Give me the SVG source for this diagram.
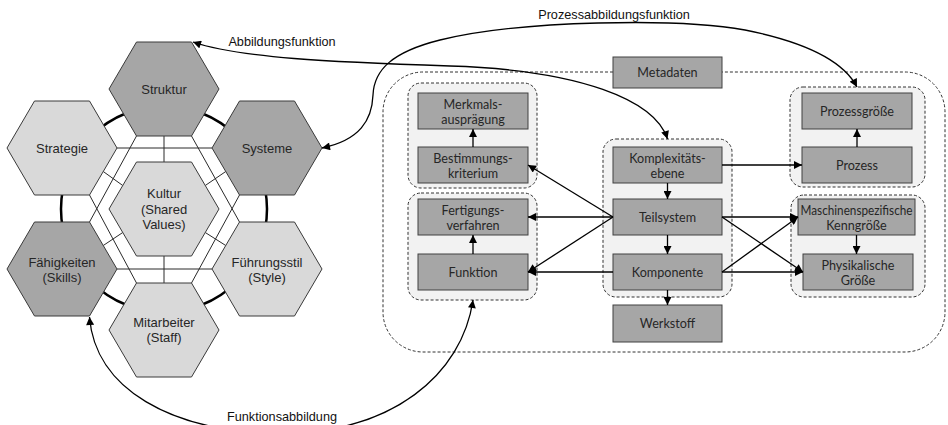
<svg xmlns="http://www.w3.org/2000/svg" width="948" height="425" viewBox="0 0 948 425">
<style>
.hexd{fill:#a6a6a6;stroke:#3a3a3a;stroke-width:1}
.hexl{fill:#d9d9d9;stroke:#3a3a3a;stroke-width:1}
.ht{font-family:"Liberation Sans",Arial,sans-serif;font-size:13px;fill:#262626;text-anchor:middle}
.lbl{font-family:"Liberation Sans",Arial,sans-serif;font-size:12.7px;fill:#111;text-anchor:middle}
.thin{stroke:#2a2a2a;stroke-width:1;fill:none}
.box{fill:#a6a6a6;stroke:#404040;stroke-width:1}
.grp{fill:#f2f2f2;stroke:#333;stroke-width:1;stroke-dasharray:3 2}
.bt{font-family:Lato,"Open Sans",sans-serif;font-size:12.6px;fill:#262626;text-anchor:middle}
.con{stroke:#000;stroke-width:1.3;fill:none}
</style>
<defs>
<marker id="ah" viewBox="0 0 10 10" refX="10" refY="5" markerWidth="9" markerHeight="8" orient="auto-start-reverse" markerUnits="userSpaceOnUse"><path d="M0,0 L10,5 L0,10 z" fill="#000"/></marker>
</defs>

<!-- 7S model -->
<g id="ring">
<circle cx="164" cy="209" r="103" fill="none" stroke="#000" stroke-width="2.5"/>
<path class="thin" d="M117,148 H212 M117,269 H212 M136.5,136 L89.5,222 M191.5,136 L239.5,222 M89.5,195 L136.5,283 M239.5,195 L191.5,283 M164,136 V162 M164,256 V283 M103.25,171.5 L122.75,185.5 M225.75,171.5 L205.25,185.5 M103.25,245.5 L122.75,232.5 M225.75,245.5 L205.25,232.5"/>
</g>
<g id="struktur"><polygon class="hexd" points="109,89 136.5,42 191.5,42 219,89 191.5,136 136.5,136"/><text class="ht" x="164" y="93.5">Struktur</text></g>
<g id="strategie"><polygon class="hexl" points="7,148 34.5,101 89.5,101 117,148 89.5,195 34.5,195"/><text class="ht" x="62" y="152.5">Strategie</text></g>
<g id="systeme"><polygon class="hexd" points="212,148 239.5,101 294.5,101 322,148 294.5,195 239.5,195"/><text class="ht" x="267" y="152.5">Systeme</text></g>
<g id="kultur"><polygon class="hexl" points="109,209 136.5,162 191.5,162 219,209 191.5,256 136.5,256"/><text class="ht" x="164" y="197.5">Kultur</text><text class="ht" x="164" y="213.5">(Shared</text><text class="ht" x="164" y="229">Values)</text></g>
<g id="faehigkeiten"><polygon class="hexd" points="7,269 34.5,222 89.5,222 117,269 89.5,316 34.5,316"/><text class="ht" x="62" y="266.5">Fähigkeiten</text><text class="ht" x="62" y="282">(Skills)</text></g>
<g id="fuehrungsstil"><polygon class="hexl" points="212,269 239.5,222 294.5,222 322,269 294.5,316 239.5,316"/><text class="ht" x="267" y="266.5">Führungsstil</text><text class="ht" x="267" y="282">(Style)</text></g>
<g id="mitarbeiter"><polygon class="hexl" points="109,330 136.5,283 191.5,283 219,330 191.5,377 136.5,377"/><text class="ht" x="164" y="326.5">Mitarbeiter</text><text class="ht" x="164" y="342">(Staff)</text></g>

<!-- right side -->
<g id="outer"><path d="M613,72 H423 A40,40 0 0 0 383,112 V312 A40,40 0 0 0 423,352 H905 A40,40 0 0 0 945,312 V112 A40,40 0 0 0 905,72 H722" fill="none" stroke="#333" stroke-width="1" stroke-dasharray="3 2"/></g>
<g id="grp-left-top"><rect class="grp" x="408" y="83" width="129" height="105" rx="13"/></g>
<g id="grp-left-bottom"><rect class="grp" x="408" y="193" width="129" height="107" rx="13"/></g>
<g id="grp-mid"><rect class="grp" x="603" y="139" width="129" height="158" rx="13"/></g>
<g id="grp-right-top"><rect class="grp" x="790" y="87" width="135" height="100" rx="13"/></g>
<g id="grp-right-bottom"><rect class="grp" x="791" y="195" width="134" height="102" rx="13"/></g>

<g id="merkmal"><rect class="box" x="418" y="93" width="110" height="36"/><text class="bt" x="473" y="108.5">Merkmals-</text><text class="bt" x="473" y="123.5">ausprägung</text></g>
<g id="bestimmung"><rect class="box" x="418" y="147" width="110" height="36"/><text class="bt" x="473" y="162.5">Bestimmungs-</text><text class="bt" x="473" y="177.5">kriterium</text></g>
<g id="fertigung"><rect class="box" x="418" y="199" width="110" height="36"/><text class="bt" x="473" y="214.5">Fertigungs-</text><text class="bt" x="473" y="229.5">verfahren</text></g>
<g id="funktion"><rect class="box" x="418" y="254" width="110" height="36"/><text class="bt" x="473" y="276.5">Funktion</text></g>
<g id="metadaten"><rect class="box" x="613" y="57" width="109" height="31"/><text class="bt" x="667.5" y="77">Metadaten</text></g>
<g id="komplex"><rect class="box" x="613" y="147" width="109" height="36"/><text class="bt" x="667.5" y="162.5">Komplexitäts-</text><text class="bt" x="667.5" y="177.5">ebene</text></g>
<g id="teilsystem"><rect class="box" x="613" y="199" width="109" height="36"/><text class="bt" x="667.5" y="221.5">Teilsystem</text></g>
<g id="komponente"><rect class="box" x="613" y="254" width="109" height="36"/><text class="bt" x="667.5" y="276.5">Komponente</text></g>
<g id="werkstoff"><rect class="box" x="613" y="305" width="109" height="37"/><text class="bt" x="667.5" y="328">Werkstoff</text></g>
<g id="prozessgroesse"><rect class="box" x="802" y="93" width="110" height="36"/><text class="bt" x="857" y="115.5">Prozessgröße</text></g>
<g id="prozess"><rect class="box" x="802" y="147" width="110" height="36"/><text class="bt" x="857" y="169.5">Prozess</text></g>
<g id="maschinen"><rect class="box" x="798" y="199" width="117" height="36"/><text class="bt" x="856.5" y="214.5" textLength="112" lengthAdjust="spacingAndGlyphs">Maschinenspezifische</text><text class="bt" x="856.5" y="229.5">Kenngröße</text></g>
<g id="physik"><rect class="box" x="803" y="254" width="110" height="36"/><text class="bt" x="858" y="269.5">Physikalische</text><text class="bt" x="858" y="284.5">Größe</text></g>

<g id="connectors">
<path class="con" marker-end="url(#ah)" d="M473,147 V129"/>
<path class="con" marker-end="url(#ah)" d="M473,254 V235"/>
<path class="con" marker-end="url(#ah)" d="M667.5,183 V199"/>
<path class="con" marker-end="url(#ah)" d="M667.5,235 V254"/>
<path class="con" marker-end="url(#ah)" d="M667.5,290 V305"/>
<path class="con" marker-end="url(#ah)" d="M857,147 V129"/>
<path class="con" marker-end="url(#ah)" d="M856.5,235 V254"/>
<path class="con" marker-end="url(#ah)" d="M613,217 L528,165"/>
<path class="con" marker-end="url(#ah)" d="M613,217 L528,217"/>
<path class="con" marker-end="url(#ah)" d="M613,217 L528,272"/>
<path class="con" marker-end="url(#ah)" d="M613,272 L528,272"/>
<path class="con" marker-end="url(#ah)" d="M722,165 L802,165"/>
<path class="con" marker-end="url(#ah)" d="M722,217 L798,217"/>
<path class="con" marker-end="url(#ah)" d="M722,217 L803,272"/>
<path class="con" marker-end="url(#ah)" d="M722,272 L803,272"/>
<path class="con" marker-end="url(#ah)" d="M722,272 L798,217"/>
<path class="con" marker-start="url(#ah)" marker-end="url(#ah)" d="M193,42 C240,58 330,62 450,66 C580,70 655,100 667.5,139"/>
<path class="con" marker-start="url(#ah)" marker-end="url(#ah)" d="M322,148 C360,140 372,120 373,95 C374,70 392,52 440,40 C520,20 680,18 745,30 C805,42 843,60 857,87"/>
<path class="con" marker-start="url(#ah)" marker-end="url(#ah)" d="M89.5,317 C95,388 170,433 282,433 C392,433 462,375 473,300"/>
</g>

<g id="labels">
<text class="lbl" x="282" y="46">Abbildungsfunktion</text>
<text class="lbl" x="614" y="19">Prozessabbildungsfunktion</text>
<text class="lbl" x="282" y="421">Funktionsabbildung</text>
</g>
</svg>
